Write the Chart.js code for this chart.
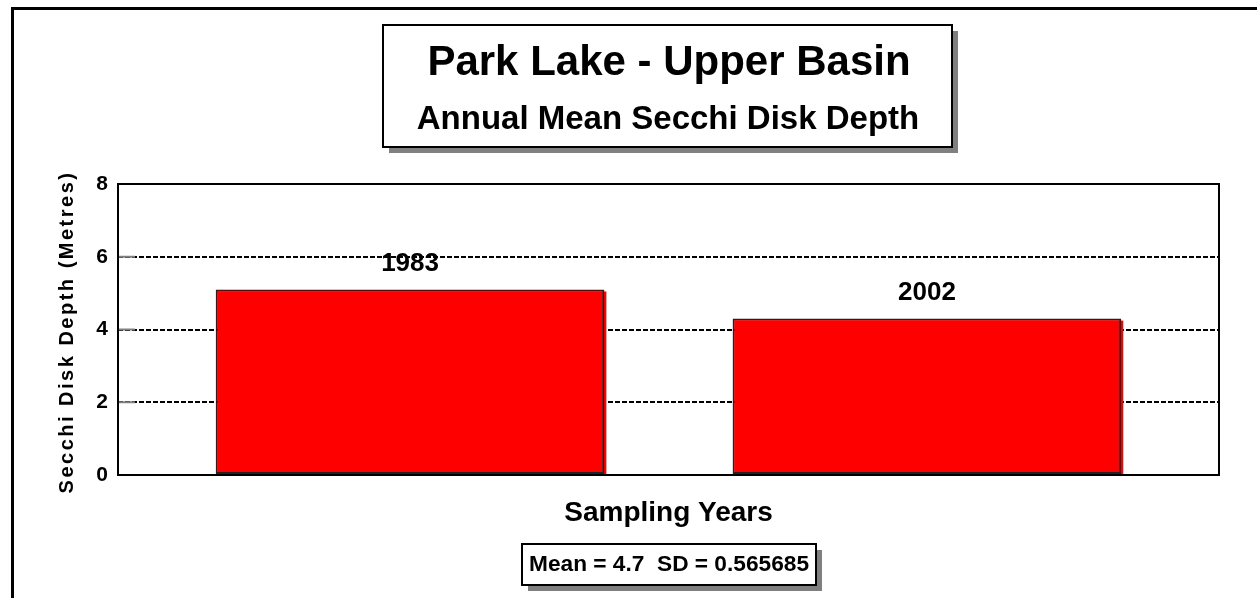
<!DOCTYPE html>
<html>
<head>
<meta charset="utf-8">
<script src="https://cdn.jsdelivr.net/npm/chart.js@4.4.1/dist/chart.umd.min.js"></script>
<style>
    html, body { margin: 0; padding: 0; background: #fff; }
</style>
</head>
<body>
<canvas id="graficoSecchi" width="1257" height="598"></canvas>
<script>
// dados
const anos = ['1983', '2002']
const profundidades = [5.1, 4.3]
const ticksY = [0, 2, 4, 6, 8]

const titulo = 'Park Lake - Upper Basin'
const subtitulo = 'Annual Mean Secchi Disk Depth'
const tituloY = 'Secchi Disk Depth (Metres)'
const tituloX = 'Sampling Years'
const estatistica = 'Mean = 4.7  SD = 0.565685'

const fonte = '"Liberation Sans", Arial, sans-serif'

function caixaComSombra(ctx, x, y, w, h){
    ctx.save()
    ctx.fillStyle = '#808080'
    ctx.fillRect(x + 6, y + 6, w, h)
    ctx.fillStyle = '#ffffff'
    ctx.fillRect(x, y, w, h)
    ctx.strokeStyle = '#000'
    ctx.lineWidth = 2
    ctx.strokeRect(x, y, w, h)
    ctx.restore()
}

const pluginMoldura = {
    id: 'moldura',
    beforeDatasetsDraw(chart){
        // sombra vermelha das barras
        const ctx = chart.ctx
        const meta = chart.getDatasetMeta(0)
        ctx.save()
        ctx.fillStyle = '#ff0000'
        meta.data.forEach(barra => {
            const w = barra.width
            ctx.fillRect(barra.x - w / 2 + 2, barra.y + 2, w, barra.base - barra.y)
        })
        ctx.restore()
    },
    afterDatasetsDraw(chart){
        const ctx = chart.ctx
        const area = chart.chartArea
        const escalaY = chart.scales.y
        const meta = chart.getDatasetMeta(0)

        // marcas internas do eixo y
        ctx.save()
        ctx.strokeStyle = '#808080'
        ctx.lineWidth = 2
        ticksY.forEach(v => {
            const py = escalaY.getPixelForValue(v)
            ctx.beginPath()
            ctx.moveTo(area.left, py)
            ctx.lineTo(area.left + 17, py)
            ctx.stroke()
        })
        ctx.restore()

        // rotulos dos anos acima das barras
        ctx.save()
        ctx.fillStyle = '#000'
        ctx.font = 'bold 26px ' + fonte
        ctx.textAlign = 'center'
        ctx.textBaseline = 'middle'
        meta.data.forEach((barra, i) => {
            ctx.fillText(anos[i], barra.x, barra.y - 26)
        })
        ctx.restore()

        // moldura da area do grafico
        ctx.save()
        ctx.strokeStyle = '#000'
        ctx.lineWidth = 2
        ctx.strokeRect(area.left, area.top, area.right - area.left, area.bottom - area.top)
        ctx.restore()
    },
    afterDraw(chart){
        const ctx = chart.ctx

        // borda externa (so esquerda e topo)
        ctx.save()
        ctx.fillStyle = '#000'
        ctx.fillRect(11, 7, 3, chart.height - 7)
        ctx.fillRect(11, 7, chart.width - 11, 3)
        ctx.restore()

        // caixa do titulo
        caixaComSombra(ctx, 383, 25, 569, 122)
        ctx.save()
        ctx.fillStyle = '#000'
        ctx.textAlign = 'center'
        ctx.textBaseline = 'middle'
        ctx.font = 'bold 42px ' + fonte
        ctx.fillText(titulo, 669, 63)
        ctx.font = 'bold 33px ' + fonte
        ctx.fillText(subtitulo, 668, 120)
        ctx.restore()

        // titulo do eixo y com espacamento
        ctx.save()
        ctx.fillStyle = '#000'
        ctx.font = 'bold 20px ' + fonte
        ctx.letterSpacing = '2.5px'
        ctx.textAlign = 'center'
        ctx.textBaseline = 'middle'
        ctx.translate(67, 332)
        ctx.rotate(-Math.PI / 2)
        ctx.fillText(tituloY, 0, 0)
        ctx.restore()

        // caixa da estatistica
        caixaComSombra(ctx, 522, 544, 294, 41)
        ctx.save()
        ctx.fillStyle = '#000'
        ctx.textAlign = 'center'
        ctx.textBaseline = 'middle'
        ctx.font = 'bold 22.7px ' + fonte
        ctx.fillText(estatistica, 669, 565)
        ctx.restore()
    }
}

const configuracao = {
    type: 'bar',
    data: {
        datasets: [{
            label: 'Secchi',
            data: anos.map((ano, i) => ({ x: i, y: profundidades[i] })),
            backgroundColor: '#ff0000',
            borderColor: '#222222',
            borderWidth: 2,
            borderSkipped: false,
            categoryPercentage: 1.0,
            barPercentage: 0.752
        }]
    },
    options: {
        responsive: false,
        animation: false,
        layout: {
            padding: { top: 184, right: 38, left: 0, bottom: 0 }
        },
        plugins: {
            legend: { display: false },
            tooltip: { enabled: false }
        },
        scales: {
            x: {
                type: 'linear',
                offset: false,
                min: -0.565,
                max: 1.565,
                afterBuildTicks(escala){
                    escala.ticks = anos.map((ano, i) => ({ value: i }))
                },
                ticks: { display: false },
                grid: { display: false },
                border: { display: false },
                title: {
                    display: true,
                    text: tituloX,
                    color: '#000',
                    font: { family: fonte, size: 28, weight: 'bold' },
                    padding: { top: 0, bottom: 68 }
                },
                afterFit(escala){ escala.height = 123 }
            },
            y: {
                min: 0,
                max: 8,
                afterBuildTicks(escala){
                    escala.ticks = ticksY.map(v => ({ value: v }))
                },
                ticks: {
                    color: '#000',
                    padding: 10,
                    font: { family: fonte, size: 21, weight: 'bold' }
                },
                grid: {
                    color: '#000',
                    lineWidth: 2,
                    drawTicks: false
                },
                border: { display: false, dash: [5, 2] },
                afterFit(escala){ escala.width = 118 }
            }
        }
    },
    plugins: [pluginMoldura]
}

const grafico = new Chart(document.getElementById('graficoSecchi'), configuracao)
</script>
</body>
</html>
